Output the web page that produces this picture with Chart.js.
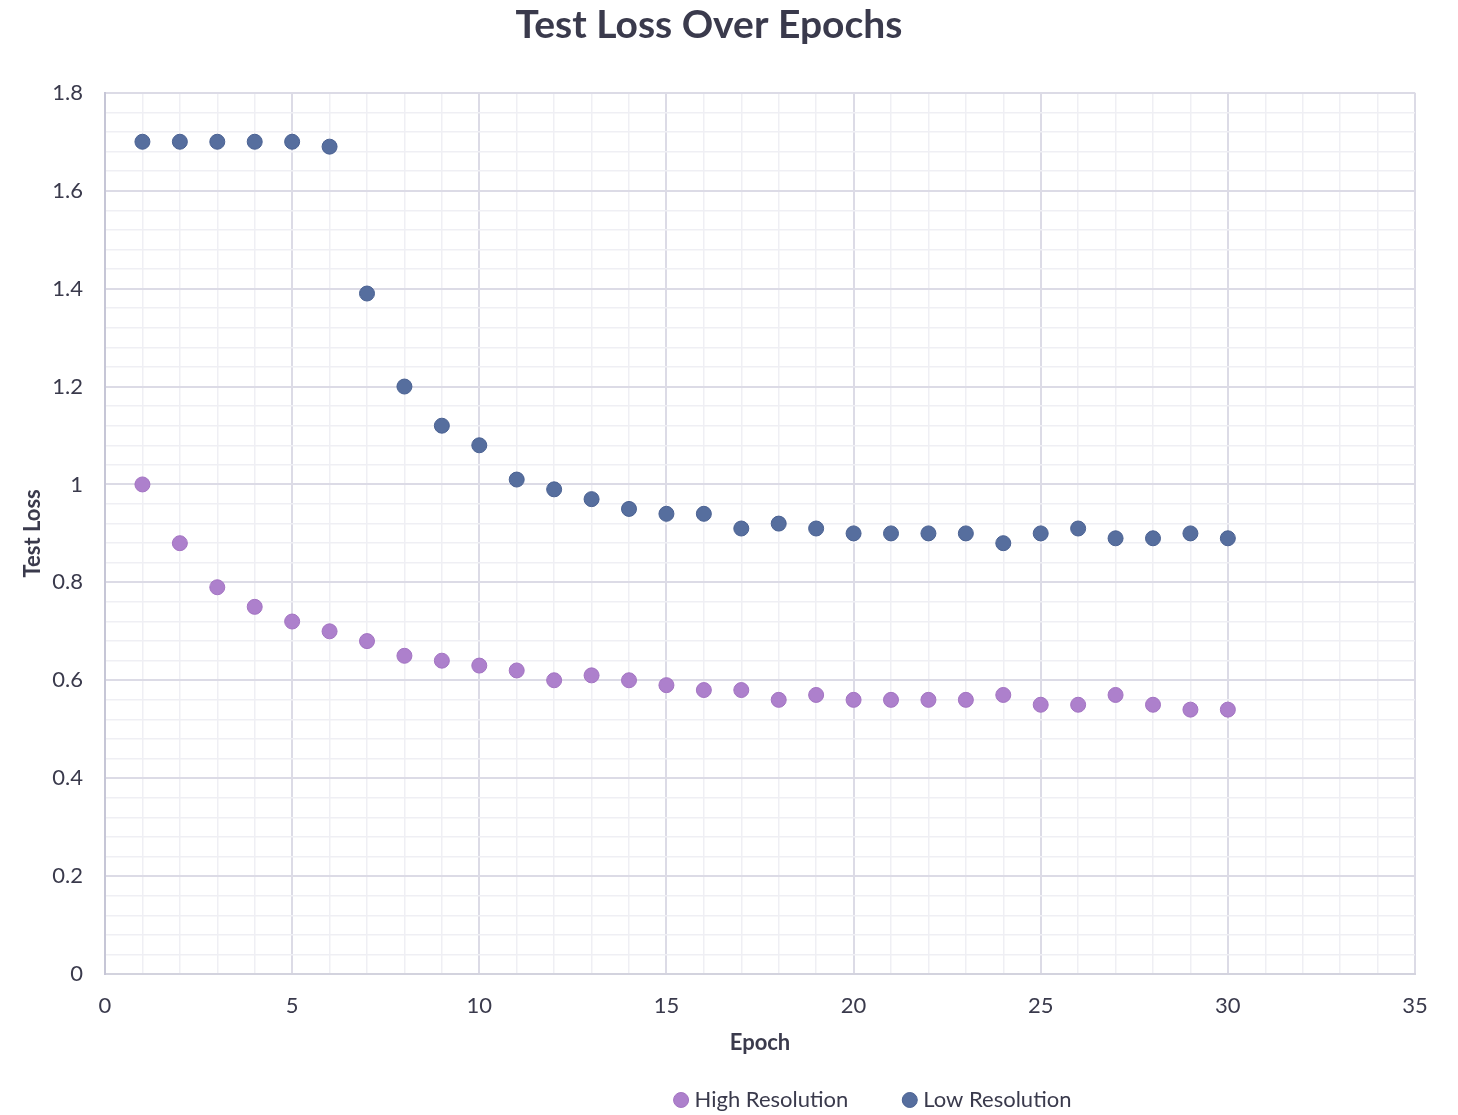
<!DOCTYPE html>
<html>
<head>
<meta charset="utf-8">
<script src="https://cdn.jsdelivr.net/npm/chart.js@4/dist/chart.umd.min.js"></script>
<style>
  html, body { margin: 0; padding: 0; background: #ffffff; }
  #wrap { width: 1458px; height: 1115px; }
</style>
</head>
<body>
<div id="wrap"><canvas id="chart" width="1458" height="1115"></canvas></div>
<script>
// Epochs 1..30
const epochs = [1,2,3,4,5,6,7,8,9,10,11,12,13,14,15,16,17,18,19,20,21,22,23,24,25,26,27,28,29,30];

// Test loss per epoch
const highResLoss = [1.00,0.88,0.79,0.75,0.72,0.70,0.68,0.65,0.64,0.63,0.62,0.60,0.61,0.60,0.59,0.58,0.58,0.56,0.57,0.56,0.56,0.56,0.56,0.57,0.55,0.55,0.57,0.55,0.54,0.54];
const lowResLoss  = [1.70,1.70,1.70,1.70,1.70,1.69,1.39,1.20,1.12,1.08,1.01,0.99,0.97,0.95,0.94,0.94,0.91,0.92,0.91,0.90,0.90,0.90,0.90,0.88,0.90,0.91,0.89,0.89,0.90,0.89];

const seriesNames = ['High Resolution', 'Low Resolution'];

const FONT = 'Lato, "Open Sans", sans-serif';
const TEXT = '#3a3a4c';
const MAJOR = '#dcdbe6';
const MINOR = '#efeff4';

const LEGEND_PAD = 59;      // gap between legend entries
const LEGEND_FONT = 22;
const LEGEND_CENTER_X = 875;
const LEGEND_CENTER_Y = 1100;
const TITLE_CENTER_X = 709;

function toPoints(xs, ys) { return xs.map((x, i) => ({ x: x, y: ys[i] })); }

const isMajorX = v => Math.abs(v / 5 - Math.round(v / 5)) < 1e-6;
const isMajorY = v => Math.abs(v / 0.2 - Math.round(v / 0.2)) < 1e-6;

// Keeps the legend compact in the layout, places it under the axis title,
// and centres the chart title.
const legendPlacement = {
  id: 'legendPlacement',
  beforeLayout(chart) {
    const lg = chart.legend;
    if (lg && !lg._compactFit) {
      const fit = lg.fit;
      lg.fit = function () { fit.call(this); this.height = 59; };
      lg._compactFit = true;
    }
  },
  afterLayout(chart) {
    const lg = chart.legend;
    if (lg) {
      lg.left = LEGEND_CENTER_X - 600;
      lg.right = LEGEND_CENTER_X + 600;
      lg.width = 1200;
      lg.top = LEGEND_CENTER_Y - LEGEND_PAD - LEGEND_FONT / 2;
      lg.bottom = chart.height;
      lg.height = lg.bottom - lg.top;
    }
    const tb = chart.titleBlock;
    if (tb) {
      tb.left = TITLE_CENTER_X - 700;
      tb.right = TITLE_CENTER_X + 700;
      tb.width = 1400;
    }
  }
};

new Chart(document.getElementById('chart'), {
  type: 'scatter',
  data: {
    datasets: [
      {
        label: seriesNames[0],
        data: toPoints(epochs, highResLoss),
        backgroundColor: '#ad80cc',
        borderColor: '#a374c2',
        borderWidth: 1,
        pointRadius: 7.5,
        pointHoverRadius: 7.5
      },
      {
        label: seriesNames[1],
        data: toPoints(epochs, lowResLoss),
        backgroundColor: '#566e9e',
        borderColor: '#4a6192',
        borderWidth: 1,
        pointRadius: 7.5,
        pointHoverRadius: 7.5
      }
    ]
  },
  plugins: [legendPlacement],
  options: {
    responsive: false,
    animation: false,
    layout: { padding: { left: 20, right: 43, top: 0, bottom: 0 } },
    plugins: {
      title: {
        display: true,
        text: 'Test Loss Over Epochs',
        color: TEXT,
        font: { family: FONT, size: 39, weight: 'bold' },
        padding: { top: 2, bottom: 44 }
      },
      legend: {
        position: 'bottom',
        labels: {
          color: TEXT,
          font: { family: FONT, size: LEGEND_FONT },
          usePointStyle: true,
          pointStyle: 'circle',
          boxWidth: 5,
          boxHeight: 10.6,
          padding: LEGEND_PAD
        }
      },
      tooltip: { enabled: false }
    },
    scales: {
      x: {
        type: 'linear',
        min: 0,
        max: 35,
        afterFit: s => { s.height = 82; },
        title: {
          display: true,
          text: 'Epoch',
          color: TEXT,
          font: { family: FONT, size: 22, weight: 'bold' },
          padding: { top: 0, bottom: 0 }
        },
        ticks: {
          stepSize: 1,
          autoSkip: false,
          maxRotation: 0,
          padding: 19,
          color: TEXT,
          font: { family: FONT, size: 22 },
          callback: v => isMajorX(v) ? String(Math.round(v)) : ''
        },
        grid: {
          drawTicks: false,
          color: c => (c.tick && isMajorX(c.tick.value)) ? MAJOR : MINOR,
          lineWidth: c => (c.tick && isMajorX(c.tick.value)) ? 2 : 1.5
        },
        border: { color: '#d3d3de', width: 2 }
      },
      y: {
        type: 'linear',
        min: 0,
        max: 1.8,
        afterFit: s => { s.width = 85; },
        title: {
          display: true,
          text: 'Test Loss',
          color: TEXT,
          font: { family: FONT, size: 22, weight: 'bold' },
          padding: 0
        },
        ticks: {
          stepSize: 0.04,
          autoSkip: false,
          padding: 22,
          color: TEXT,
          font: { family: FONT, size: 22 },
          callback: v => isMajorY(v) ? String(Math.round(v * 10) / 10) : ''
        },
        grid: {
          drawTicks: false,
          color: c => (c.tick && isMajorY(c.tick.value)) ? MAJOR : MINOR,
          lineWidth: c => (c.tick && isMajorY(c.tick.value)) ? 2 : 1.5
        },
        border: { color: '#c6c6d6', width: 2 }
      }
    }
  }
});
</script>
</body>
</html>
